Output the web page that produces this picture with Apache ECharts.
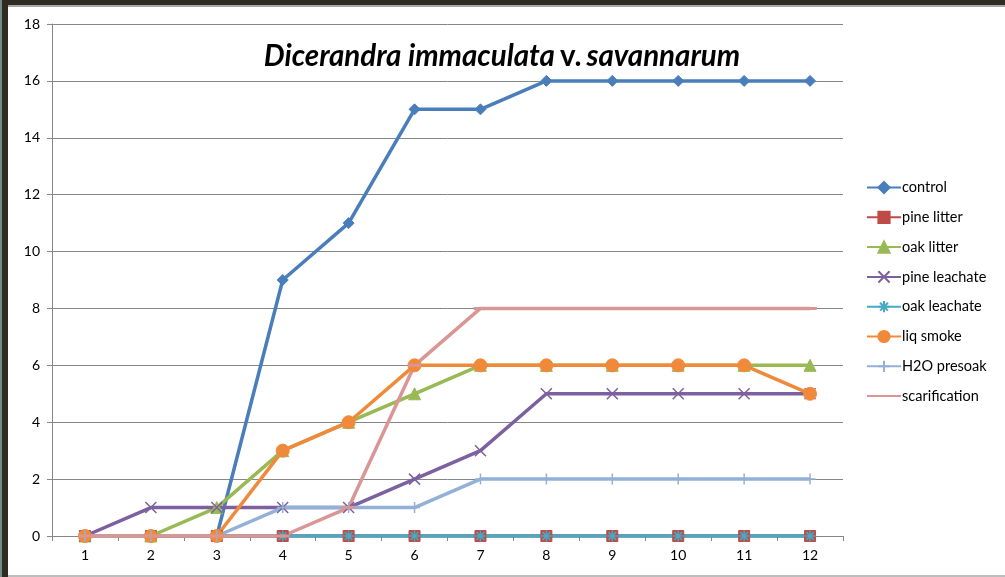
<!DOCTYPE html>
<html>
<head>
<meta charset="utf-8">
<script src="https://cdn.jsdelivr.net/npm/echarts@6/dist/echarts.min.js"></script>
<style>
  html, body { margin: 0; padding: 0; background: #fff; }
  #wrap { position: relative; width: 1005px; height: 577px; overflow: hidden; }
  #chart { position: absolute; left: 0; top: 0; width: 1005px; height: 577px; }
  .b { position: absolute; pointer-events: none; }
</style>
</head>
<body>
<div id="wrap">
  <div id="chart"></div>
  <div class="b" style="left:0;top:0;width:1005px;height:5px;background:#2e2b23;"></div>
  <div class="b" style="left:0;top:5px;width:1005px;height:2px;background:#a8a8a8;"></div>
  <div class="b" style="left:0;top:0;width:8px;height:577px;background:#2e2b23;"></div>
  <div class="b" style="left:0;top:0;width:2px;height:577px;background:#6f8a88;"></div>
  <div class="b" style="left:8px;top:575px;width:997px;height:2px;background:#bdbdbd;"></div>
</div>
<script>
const categories = ['1','2','3','4','5','6','7','8','9','10','11','12'];
const control       = [0,0,0,9,11,15,15,16,16,16,16,16];
const pineLitter    = [0,0,0,0,0,0,0,0,0,0,0,0];
const oakLitter     = [0,0,1,3,4,5,6,6,6,6,6,6];
const pineLeachate  = [0,1,1,1,1,2,3,5,5,5,5,5];
const oakLeachate   = [0,0,0,0,0,0,0,0,0,0,0,0];
const liqSmoke      = [0,0,0,3,4,6,6,6,6,6,6,5];
const h2oPresoak    = [0,0,0,1,1,1,2,2,2,2,2,2];
const scarification = [0,0,0,0,1,6,8,8,8,8,8,8];

const FONT = 'Lato, "Open Sans", sans-serif';

function mk(name, data, color, symbol, size, extra) {
  return Object.assign({
    name, type: 'line', data,
    symbol, symbolSize: size,
    showAllSymbol: true,
    lineStyle: { color, width: 3.5 },
    itemStyle: { color, borderColor: color, borderWidth: 1 },
    emphasis: { disabled: true },
    animation: false
  }, extra || {});
}

const chart = echarts.init(document.getElementById('chart'), null, { renderer: 'canvas' });
chart.setOption({
  backgroundColor: '#ffffff',
  animation: false,
  title: {
    text: '{i|Dicerandra immaculata} {n|v.} {i|savannarum}',
    left: 497, top: 36, textAlign: 'center',
    textStyle: {
      rich: {
        i: { fontFamily: FONT, fontSize: 29.5, fontWeight: 'bold', fontStyle: 'italic', color: '#000' },
        n: { fontFamily: FONT, fontSize: 29.5, fontWeight: 'bold', color: '#000' }
      }
    }
  },
  legend: {
    orient: 'vertical',
    left: 866, top: 180, padding: 0,
    itemWidth: 34, itemHeight: 14, itemGap: 14.8,
    textStyle: { fontFamily: FONT, fontSize: 14.5, color: '#000', padding: [0,0,0,-4] },
    data: ['control','pine litter','oak litter','pine leachate','oak leachate','liq smoke','H2O presoak',
      { name: 'scarification', itemStyle: { opacity: 0 } }]
  },
  grid: { left: 52, top: 24, right: 162, bottom: 41, containLabel: false },
  xAxis: {
    type: 'category', data: categories, boundaryGap: true,
    axisLine: { lineStyle: { color: '#868686', width: 1 } },
    axisTick: { show: true, inside: false, length: 5, alignWithLabel: false, lineStyle: { color: '#868686' } },
    axisLabel: { fontFamily: FONT, fontSize: 14, color: '#000', margin: 12 },
    splitLine: { show: false }
  },
  yAxis: {
    type: 'value', min: 0, max: 18, interval: 2,
    axisLine: { show: true, lineStyle: { color: '#868686', width: 1 } },
    axisTick: { show: true, length: 5, lineStyle: { color: '#868686' } },
    axisLabel: { fontFamily: FONT, fontSize: 14, color: '#000', margin: 12 },
    splitLine: { show: true, lineStyle: { color: '#868686', width: 1 } }
  },
  series: [
    mk('control', control, '#4A7EBB', 'diamond', 11),
    mk('pine litter', pineLitter, '#BE4B48', 'rect', 11),
    mk('oak litter', oakLitter, '#98B954', 'triangle', 12),
    mk('pine leachate', pineLeachate, '#7D60A0', 'path://M0,0L10,10M10,0L0,10', 11, { itemStyle: { color: '#7D60A0', borderColor: '#7D60A0', borderWidth: 1.5 } }),
    mk('oak leachate', oakLeachate, '#46AAC5', 'path://M5,0L5,10M0,5L10,5M1.5,1.5L8.5,8.5M8.5,1.5L1.5,8.5', 11, { itemStyle: { color: '#46AAC5', borderColor: '#46AAC5', borderWidth: 1.5 } }),
    mk('liq smoke', liqSmoke, '#F08A3A', 'circle', 13),
    mk('H2O presoak', h2oPresoak, '#93B1D8', 'path://M5,0L5,10M0,5L10,5', 11, { itemStyle: { color: '#93B1D8', borderColor: '#93B1D8', borderWidth: 1.5 } }),
    mk('scarification', scarification, '#DA9694', 'rect', [9, 2])
  ]
});
</script>
</body>
</html>
